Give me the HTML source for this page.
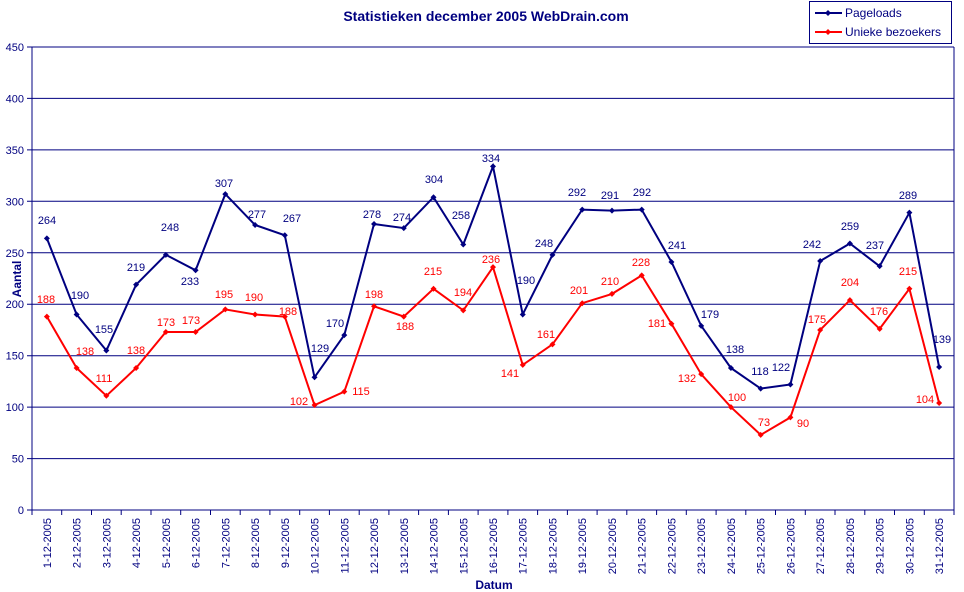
<!DOCTYPE html>
<html><head><meta charset="utf-8"><style>
body{margin:0;background:#fff}
svg{display:block;font-family:"Liberation Sans",sans-serif}
</style></head><body>
<svg id="s" width="964" height="592" xmlns="http://www.w3.org/2000/svg"></svg>
<script>
const P=[264,190,155,219,248,233,307,277,267,129,170,278,274,304,258,334,190,248,292,291,292,241,179,138,118,122,242,259,237,289,139];
const U=[188,138,111,138,173,173,195,190,188,102,115,198,188,215,194,236,141,161,201,210,228,181,132,100,73,90,175,204,176,215,104];
const PL=[[47,220],[80,295],[104,329],[136,267],[170,227],[190,281],[224,183],[257,214],[292,218],[320,348],[335,323],[372,214],[402,217],[434,179],[461,215],[491,158],[526,280],[544,243],[577,192],[610,195],[642,192],[677,245],[710,314],[735,349],[760,371],[781,367],[812,244],[850,226],[875,245],[908,195],[942,339]];
const UL=[[46,299],[85,351],[104,378],[136,350],[166,322],[191,320],[224,294],[254,297],[288,311],[299,401],[361,391],[374,294],[405,326],[433,271],[463,292],[491,259],[510,373],[546,334],[579,290],[610,281],[641,262],[657,323],[687,378],[737,397],[764,422],[803,423],[817,319],[850,282],[879,311],[908,271],[925,399]];
const L=32,R=954,T=47,B=510,W=(R-L)/31;
const X=i=>L+W*(i+0.5),Y=v=>B-(B-T)*v/450;
let h='';
for(let v=0;v<=450;v+=50){const y=Y(v).toFixed(1);h+=`<line x1="${L-5}" y1="${y}" x2="${R}" y2="${y}" stroke="#000080" stroke-width="1"/>`;h+=`<text x="${L-8}" y="${+y+4}" font-size="11" fill="#000080" text-anchor="end">${v}</text>`;}
h+=`<line x1="${L}" y1="${T}" x2="${L}" y2="${B}" stroke="#000080"/><line x1="${R}" y1="${T}" x2="${R}" y2="${B}" stroke="#000080"/>`;
for(let i=0;i<=31;i++){const x=(L+W*i).toFixed(1);h+=`<line x1="${x}" y1="${B}" x2="${x}" y2="${B+5}" stroke="#000080"/>`;}
for(let i=0;i<31;i++){const x=X(i)+4;h+=`<text transform="translate(${x.toFixed(1)},518) rotate(-90)" font-size="11" fill="#000080" text-anchor="end">${i+1}-12-2005</text>`;}
function ser(d,c,lab){let p=d.map((v,i)=>X(i).toFixed(1)+','+Y(v).toFixed(1)).join(' ');h+=`<polyline points="${p}" fill="none" stroke="${c}" stroke-width="2"/>`;d.forEach((v,i)=>{const x=X(i),y=Y(v);h+=`<path d="M${x-3} ${y}L${x} ${y-3}L${x+3} ${y}L${x} ${y+3}Z" fill="${c}"/>`;});
d.forEach((v,i)=>{h+=`<text x="${lab[i][0]}" y="${lab[i][1]+4}" font-size="11" fill="${c}" text-anchor="middle">${v}</text>`;});}
ser(P,'#000080',PL);ser(U,'#ff0000',UL);
h+=`<text x="486" y="21" font-size="14" font-weight="bold" fill="#000080" text-anchor="middle">Statistieken december 2005 WebDrain.com</text>`;
h+=`<text x="494" y="589" font-size="12" font-weight="bold" fill="#000080" text-anchor="middle">Datum</text>`;
h+=`<text transform="translate(21,279) rotate(-90)" font-size="12" font-weight="bold" fill="#000080" text-anchor="middle">Aantal</text>`;
h+=`<rect x="809.5" y="1.5" width="142" height="42" fill="#fff" stroke="#000080"/>`;
h+=`<line x1="815" y1="13" x2="842" y2="13" stroke="#000080" stroke-width="2"/><path d="M825 13L828 10L831 13L828 16Z" fill="#000080"/><text x="845" y="17" font-size="12" fill="#000080">Pageloads</text>`;
h+=`<line x1="815" y1="32" x2="842" y2="32" stroke="#ff0000" stroke-width="2"/><path d="M825 32L828 29L831 32L828 35Z" fill="#ff0000"/><text x="845" y="36" font-size="12" fill="#000080">Unieke bezoekers</text>`;
document.getElementById('s').innerHTML=h;
</script>
</body></html>
